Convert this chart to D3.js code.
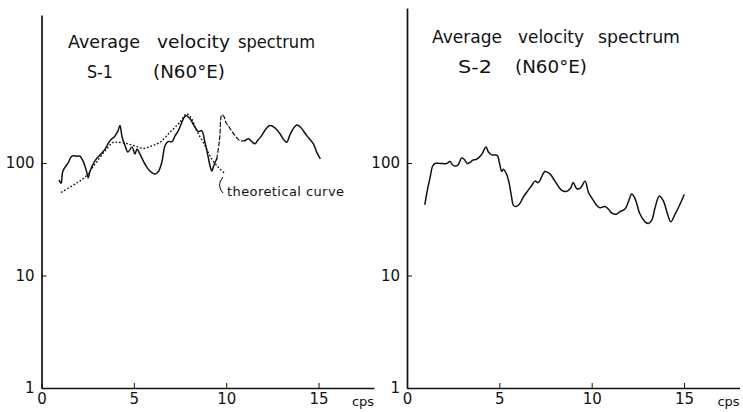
<!DOCTYPE html>
<html>
<head>
<meta charset="utf-8">
<script src="https://cdn.jsdelivr.net/npm/d3@7"></script>
<style>
  body { margin: 0; background: #fff; }
  svg { display: block; }
  .lbl { font-family: "DejaVu Sans", sans-serif; fill: #111; }
  .axis path, .axis line { stroke: #111; }
  .axis text { font-family: "DejaVu Sans", sans-serif; font-size: 15px; fill: #111; }
</style>
</head>
<body>
<svg id="chart" width="743" height="412"></svg>
<script>
// ticks
var xTicks = [0, 5, 10, 15];
var yTicks = [1, 10, 100];

// S-1 observed spectrum [cps, amplitude]
var s1Solid = [[0.96, 70], [1.06, 66], [1.16, 85], [1.45, 101], [1.6, 113], [1.72, 116], [1.92, 115],
  [2.08, 115], [2.25, 104], [2.45, 83], [2.53, 74], [2.63, 85], [2.9, 105], [3.17, 118], [3.44, 133],
  [3.71, 158], [3.98, 174], [4.14, 193], [4.25, 215], [4.36, 171], [4.52, 143], [4.68, 125], [4.9, 139],
  [5.06, 120], [5.17, 133], [5.33, 120], [5.6, 98], [5.87, 85], [6.15, 80], [6.31, 83], [6.51, 101],
  [6.69, 143], [6.85, 155], [7.07, 155], [7.23, 174], [7.41, 194], [7.68, 247], [7.82, 264], [8.04, 247],
  [8.26, 215], [8.49, 190], [8.67, 194], [8.85, 153], [9.03, 112], [9.12, 95], [9.22, 85], [9.34, 96],
  [9.49, 109]];
// broken (dashed) part of the S-1 trace
var s1Broken = [[9.49, 109], [9.61, 148], [9.66, 175], [9.76, 268], [9.88, 258], [9.99, 228],
  [10.11, 215], [10.37, 185], [10.75, 158], [11.02, 158]];
var s1Tail = [[11.02, 158], [11.2, 164], [11.4, 154], [11.56, 148], [11.72, 160], [11.92, 175],
  [12.15, 201], [12.37, 215], [12.64, 205], [12.91, 182], [13.13, 160], [13.28, 153], [13.45, 178],
  [13.62, 201], [13.82, 218], [14.0, 210], [14.36, 175], [14.72, 148], [14.9, 125], [15.08, 110]];
// theoretical curve (dotted)
var s1Theory = [[1.09, 55], [1.81, 65], [2.36, 75], [2.9, 98], [3.44, 128], [3.89, 153], [4.07, 153],
  [4.52, 150], [5.06, 142], [5.51, 135], [5.98, 142], [6.42, 153], [6.96, 188], [7.5, 231], [7.86, 274],
  [8.13, 247], [8.4, 194], [8.85, 143], [9.21, 109], [9.57, 92], [9.94, 80]];

// S-2 observed spectrum
var s2Curve = [[0.97, 43], [1.1, 57], [1.25, 74], [1.39, 94], [1.52, 99], [1.79, 99], [2.15, 99],
  [2.33, 103], [2.47, 96], [2.65, 94], [2.78, 97], [2.96, 111], [3.09, 108], [3.26, 99], [3.41, 101],
  [3.56, 106], [3.77, 108], [4.04, 119], [4.28, 139], [4.4, 126], [4.59, 118], [4.89, 117], [5.0, 101],
  [5.13, 84], [5.21, 88], [5.4, 79], [5.54, 65], [5.67, 49], [5.76, 42], [5.9, 41], [6.08, 43], [6.3, 50],
  [6.48, 55], [6.75, 63], [6.93, 69], [7.11, 67], [7.47, 84], [7.74, 80], [8.01, 69], [8.38, 57],
  [8.65, 56], [8.86, 60], [9.0, 67], [9.19, 59], [9.4, 60], [9.64, 69], [9.82, 55], [10.0, 49],
  [10.27, 42], [10.45, 40], [10.72, 41], [10.9, 39], [11.08, 36], [11.32, 35], [11.53, 37], [11.8, 39],
  [11.98, 45], [12.17, 53], [12.35, 48], [12.62, 35], [12.89, 30], [13.07, 29], [13.25, 31], [13.43, 40],
  [13.66, 51], [13.88, 46], [14.11, 35], [14.28, 30], [14.51, 35], [14.78, 43], [15.0, 52]];

var titleWords = ["Average", "velocity", "spectrum"];
var subLeft = ["S-1", "(N60°E)"];
var subRight = ["S-2", "(N60°E)"];

var svg = d3.select("#chart");
var base = 388, decade = 112.5, pxPerCps = 18.47;

function panel(x0, top) {
    var x = d3.scaleLinear().domain([0, 18]).range([x0, x0 + 18 * pxPerCps]);
    var y = d3.scaleLog().domain([1, Math.pow(10, (base - top) / decade)]).range([base, top]);
    svg.append("g").attr("class", "axis")
        .attr("transform", "translate(0," + base + ")")
        .call(d3.axisBottom(x).tickValues(xTicks).tickFormat(d3.format("d"))
            .tickSizeInner(-5).tickSizeOuter(0).tickPadding(5))
        .call(g => g.select(".domain").attr("stroke-width", 1.3));
    svg.append("g").attr("class", "axis")
        .attr("transform", "translate(" + x0 + ",0)")
        .call(d3.axisLeft(y).tickValues(yTicks).tickFormat(d3.format("d"))
            .tickSizeInner(-5).tickSizeOuter(0).tickPadding(7))
        .call(g => g.select(".domain").attr("stroke-width", 1.7));
    svg.append("text").attr("class", "lbl")
        .attr("x", x(18) - 22).attr("y", base + 18)
        .style("font-size", "13px").text("cps");
    return {x: x, y: y};
}

function trace(p, data, dash, width) {
    var line = d3.line().x(d => p.x(d[0])).y(d => p.y(d[1]))
        .curve(d3.curveCatmullRom.alpha(0.5));
    svg.append("path").datum(data)
        .attr("d", line)
        .attr("fill", "none")
        .attr("stroke", "#111")
        .attr("stroke-width", width)
        .attr("stroke-linecap", "round")
        .attr("stroke-dasharray", dash);
}

var p1 = panel(41.5, 15);
var p2 = panel(407, 8);

trace(p1, s1Theory, "0.6,3", 1.4);
trace(p1, s1Solid, null, 1.5);
trace(p1, s1Broken, "4,2.5", 1.2);
trace(p1, s1Tail, null, 1.5);
trace(p2, s2Curve, null, 1.5);

// titles: one text per word, placed where the lettering sits
function words(list, xs, widths, y, size) {
    list.forEach(function (w, i) {
        svg.append("text").attr("class", "lbl")
            .attr("x", xs[i]).attr("y", y)
            .attr("textLength", widths[i]).attr("lengthAdjust", "spacingAndGlyphs")
            .style("font-size", size + "px")
            .text(w);
    });
}
words(titleWords, [68, 157, 238], [72, 73, 77], 48, 17);
words(subLeft, [87, 153], [26, 72], 78, 17);
words(titleWords, [432, 518, 598], [70, 66, 82], 43, 17);
words(subRight, [458, 515], [34, 72], 73, 17);

// theoretical curve label with leader
svg.append("path")
    .attr("d", "M223,177 Q216,185 223,193")
    .attr("fill", "none").attr("stroke", "#111").attr("stroke-width", 1);
svg.append("text").attr("class", "lbl")
    .attr("x", 227).attr("y", 196)
    .attr("textLength", 117).attr("lengthAdjust", "spacing")
    .style("font-size", "13px")
    .text("theoretical curve");
</script>
</body>
</html>
